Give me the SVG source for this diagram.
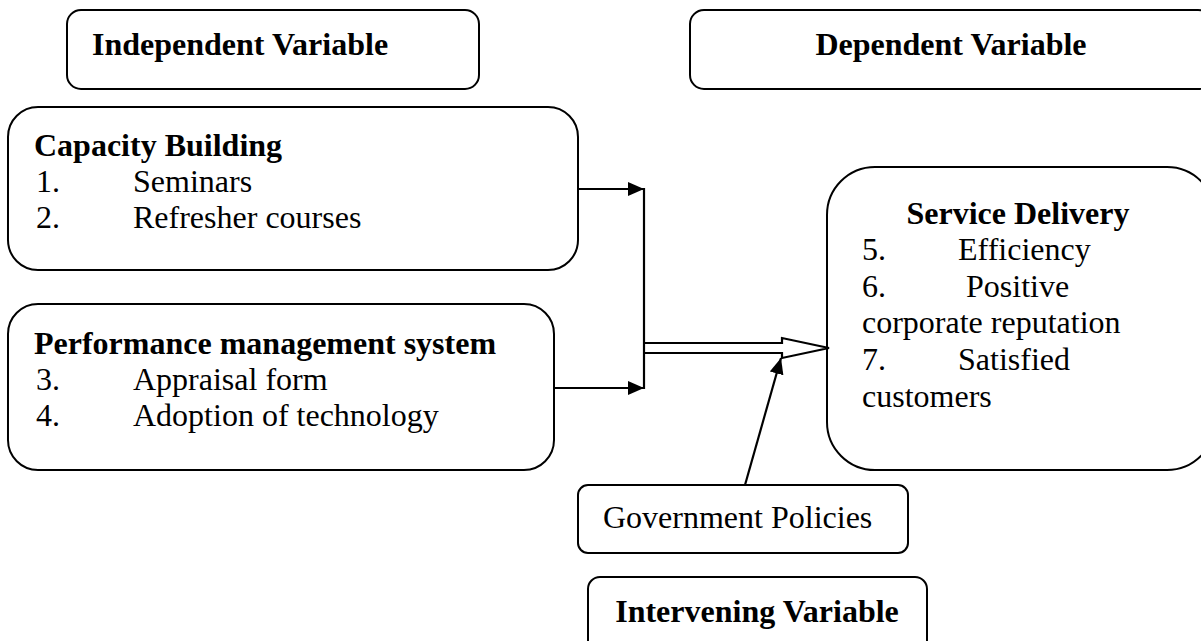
<svg xmlns="http://www.w3.org/2000/svg" width="1201" height="641" viewBox="0 0 1201 641">
  <style>
    .box { fill: #ffffff; stroke: #000000; stroke-width: 2; }
    .t { font-family: "Liberation Serif", "Times New Roman", serif; font-size: 32px; fill: #000000; }
    .b { font-weight: bold; }
    .line { stroke: #000000; stroke-width: 2.2; fill: none; }
  </style>
  <defs>
    <marker id="head" viewBox="0 0 16 14" refX="16" refY="7" markerWidth="16" markerHeight="14" markerUnits="userSpaceOnUse" orient="auto">
      <path d="M0,0 L16,7 L0,14 Z" fill="#000000"/>
    </marker>
  </defs>
  <rect width="1201" height="641" fill="#ffffff"/>

  <g id="independent-label">
    <rect class="box" x="67" y="10" width="412" height="79" rx="14"/>
    <text class="t b" x="92" y="55">Independent Variable</text>
  </g>

  <g id="dependent-label">
    <rect class="box" x="690" y="10" width="522" height="79" rx="14"/>
    <text class="t b" x="951" y="55" text-anchor="middle">Dependent Variable</text>
  </g>

  <g id="capacity-building">
    <rect class="box" x="8" y="107" width="570" height="163" rx="30"/>
    <text class="t b" x="34" y="156">Capacity Building</text>
    <text class="t" x="36" y="192">1.</text>
    <text class="t" x="133" y="192">Seminars</text>
    <text class="t" x="36" y="228">2.</text>
    <text class="t" x="133" y="228">Refresher courses</text>
  </g>

  <g id="performance-management">
    <rect class="box" x="8" y="304" width="546" height="166" rx="30"/>
    <text class="t b" x="34" y="354">Performance management system</text>
    <text class="t" x="36" y="390">3.</text>
    <text class="t" x="133" y="390">Appraisal form</text>
    <text class="t" x="36" y="426">4.</text>
    <text class="t" x="133" y="426">Adoption of technology</text>
  </g>

  <g id="service-delivery">
    <rect class="box" x="827" y="167" width="388" height="303" rx="48"/>
    <text class="t b" x="1018" y="224" text-anchor="middle">Service Delivery</text>
    <text class="t" x="862" y="260">5.</text>
    <text class="t" x="958" y="260">Efficiency</text>
    <text class="t" x="862" y="297">6.</text>
    <text class="t" x="966" y="297">Positive</text>
    <text class="t" x="862" y="333">corporate reputation</text>
    <text class="t" x="862" y="370">7.</text>
    <text class="t" x="958" y="370">Satisfied</text>
    <text class="t" x="862" y="407">customers</text>
  </g>

  <g id="government-policies">
    <rect class="box" x="578" y="485" width="330" height="68" rx="10"/>
    <text class="t" x="603" y="528">Government Policies</text>
  </g>

  <g id="intervening-label">
    <rect class="box" x="588" y="577" width="339" height="80" rx="12"/>
    <text class="t b" x="757" y="622" text-anchor="middle">Intervening Variable</text>
  </g>

  <g id="connectors">
    <line class="line" x1="578" y1="189" x2="644" y2="189" marker-end="url(#head)"/>
    <line class="line" x1="554" y1="388" x2="644" y2="388" marker-end="url(#head)"/>
    <line class="line" x1="644" y1="188" x2="644" y2="389"/>
    <path class="line" d="M644,343 L782,343 L782,338 L829,348 L782,358 L782,353 L644,353" fill="#ffffff"/>
    <line class="line" x1="745" y1="485" x2="781" y2="358" marker-end="url(#head)"/>
  </g>
</svg>
